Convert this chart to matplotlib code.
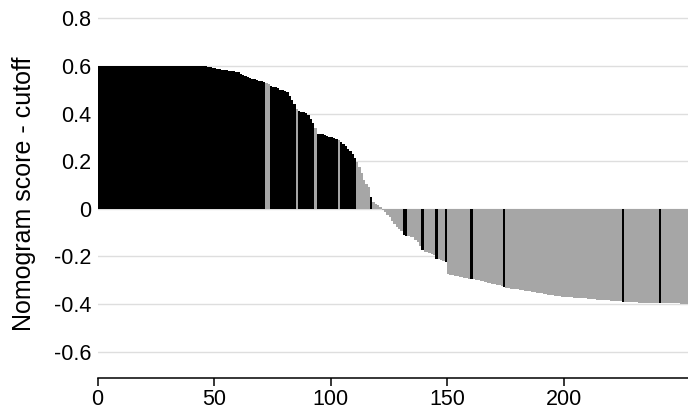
import numpy as np
import matplotlib
matplotlib.use("Agg")
import matplotlib.pyplot as plt

plt.rcParams['font.family'] = ['Liberation Sans', 'DejaVu Sans']

# nomogram score minus cutoff, one bar per patient (sorted)
score = [
    0.600, 0.600, 0.600, 0.600, 0.600, 0.600, 0.600, 0.600, 0.600, 0.600,
    0.600, 0.600, 0.600, 0.600, 0.600, 0.600, 0.600, 0.600, 0.600, 0.600,
    0.600, 0.600, 0.600, 0.600, 0.600, 0.600, 0.600, 0.600, 0.600, 0.600,
    0.600, 0.600, 0.600, 0.600, 0.600, 0.600, 0.600, 0.600, 0.600, 0.600,
    0.600, 0.600, 0.600, 0.600, 0.600, 0.600, 0.599, 0.597, 0.595, 0.593,
    0.591, 0.589, 0.587, 0.585, 0.583, 0.581, 0.579, 0.578, 0.577, 0.576,
    0.575, 0.568, 0.563, 0.558, 0.554, 0.550, 0.547, 0.544, 0.541, 0.538,
    0.535, 0.533, 0.528, 0.526, 0.515, 0.513, 0.511, 0.507, 0.500, 0.498,
    0.495, 0.490, 0.475, 0.455, 0.442, 0.417, 0.411, 0.408, 0.405, 0.401,
    0.392, 0.378, 0.360, 0.340, 0.316, 0.315, 0.313, 0.311, 0.305, 0.303,
    0.300, 0.298, 0.294, 0.288, 0.281, 0.272, 0.262, 0.252, 0.242, 0.232,
    0.215, 0.195, 0.175, 0.150, 0.120, 0.105, 0.090, 0.050, 0.030, 0.022,
    0.015, 0.006, -0.006, -0.015, -0.025, -0.035, -0.050, -0.065, -0.075, -0.085,
    -0.095, -0.110, -0.113, -0.116, -0.117, -0.120, -0.130, -0.140, -0.155, -0.175,
    -0.180, -0.183, -0.186, -0.190, -0.195, -0.210, -0.213, -0.216, -0.220, -0.225,
    -0.275, -0.277, -0.279, -0.281, -0.283, -0.285, -0.287, -0.289, -0.291, -0.293,
    -0.295, -0.297, -0.299, -0.301, -0.303, -0.305, -0.307, -0.310, -0.312, -0.315,
    -0.318, -0.320, -0.322, -0.325, -0.330, -0.334, -0.335, -0.336, -0.337, -0.338,
    -0.339, -0.340, -0.342, -0.344, -0.346, -0.347, -0.348, -0.350, -0.352, -0.354,
    -0.356, -0.358, -0.360, -0.362, -0.363, -0.364, -0.366, -0.367, -0.368, -0.369,
    -0.370, -0.371, -0.371, -0.372, -0.373, -0.374, -0.375, -0.375, -0.376, -0.377,
    -0.378, -0.380, -0.381, -0.381, -0.382, -0.383, -0.383, -0.384, -0.385, -0.385,
    -0.386, -0.386, -0.387, -0.388, -0.388, -0.391, -0.392, -0.392, -0.392, -0.393,
    -0.393, -0.393, -0.394, -0.394, -0.394, -0.394, -0.395, -0.395, -0.395, -0.395,
    -0.395, -0.395, -0.396, -0.396, -0.397, -0.397, -0.397, -0.398, -0.398, -0.398,
    -0.399, -0.399, -0.400, -0.400,
]

# bars whose outcome disagrees with the side of the cutoff
discordant = [72, 73, 85, 93, 103, 111, 112, 113, 114, 115, 116, 118, 119, 120, 121,
              131, 132, 139, 145, 149, 160, 174, 225, 241]

xticks = [0, 50, 100, 150, 200]
yticks = [0.8, 0.6, 0.4, 0.2, 0, -0.2, -0.4, -0.6]
ytick_labels = ["0.8", "0.6", "0.4", "0.2", "0", "-0.2", "-0.4", "-0.6"]

score = np.array(score)
pos = np.arange(len(score))
event = (score > 0) != np.isin(pos, discordant)
colors = np.where(event, "black", "#a6a6a6")

fig = plt.figure(figsize=(6.88, 4.12), dpi=100)
ax = fig.add_axes([97.5/688, 34/412, 590.5/688, 378/412])

ax.bar(pos, score, width=1, align="edge", color=colors, linewidth=0, zorder=2)

ax.set_xlim(0, 253.4)
ax.set_ylim(-0.711, 0.877)

ax.set_yticks(yticks)
ax.set_yticklabels(ytick_labels)
ax.set_xticks(xticks)
ax.grid(axis="y", color="#dedede", linewidth=1, zorder=0)

for s in ["top", "right", "left"]:
    ax.spines[s].set_visible(False)
ax.spines["bottom"].set_linewidth(1.1)
ax.tick_params(axis="y", length=0, pad=4.5, labelsize=15.5)
ax.tick_params(axis="x", length=6, width=1.1, pad=2, labelsize=15.5)

ax.set_ylabel("Nomogram score - cutoff", fontsize=18)
ax.yaxis.set_label_coords(-0.104, 0.488)

fig.savefig("out.png", dpi=100)
